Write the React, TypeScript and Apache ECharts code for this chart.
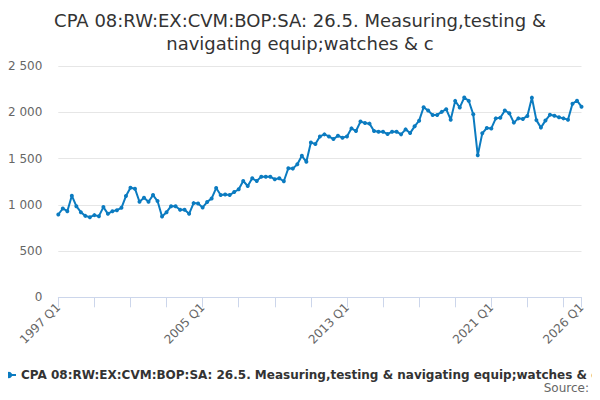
import { useEffect, useRef } from "react";
import * as echarts from "echarts";

const seriesName = "CPA 08:RW:EX:CVM:BOP:SA: 26.5. Measuring,testing & navigating equip;watches & c";
const titleText = "CPA 08:RW:EX:CVM:BOP:SA: 26.5. Measuring,testing &\nnavigating equip;watches & c";

// quarters 1997 Q1 .. 2026 Q1
const quarters: string[] = [];
for (let y = 1997; y <= 2026; y++) {
	for (let q = 1; q <= 4; q++) {
		if (y === 2026 && q > 1) break;
		quarters.push(`${y} Q${q}`);
	}
}

const values = [
	895, 960, 931, 1098, 985, 920, 880, 866, 888, 877,
	975, 902, 931, 942, 967, 1094, 1185, 1174, 1033, 1076,
	1033, 1105, 1040, 873, 920, 985, 985, 946, 946, 902,
	1018, 1014, 971, 1029, 1069, 1181, 1105, 1112, 1105, 1138,
	1167, 1257, 1203, 1286, 1257, 1304, 1304, 1304, 1275, 1286,
	1254, 1395, 1391, 1438, 1529, 1464, 1674, 1656, 1739, 1761,
	1739, 1710, 1746, 1725, 1739, 1826, 1797, 1899, 1884, 1877,
	1797, 1790, 1790, 1764, 1790, 1790, 1761, 1815, 1775, 1848,
	1909, 2054, 2018, 1971, 1971, 2004, 2033, 1920, 2123, 2051,
	2159, 2123, 1978, 1535, 1772, 1830, 1825, 1934, 1941, 2020,
	1989, 1888, 1934, 1928, 1960, 2158, 1915, 1834, 1910, 1972,
	1963, 1945, 1934, 1920, 2092, 2125, 2060,
];

const labelIndexes = [0, 32, 64, 96, 116];
const yTicks = { min: 0, max: 2500, interval: 500 };

const lineColor = "#0b7bc0";
const font = "DejaVu Sans";

const App: React.FC = () => {
	const chartRef = useRef<HTMLDivElement>(null);

	useEffect(() => {
		if (!chartRef.current) return;
		const chart = echarts.init(chartRef.current, undefined, { renderer: "svg" });

		const lastIdx = quarters.length - 1;

		chart.setOption({
			animation: false,
			backgroundColor: "#ffffff",
			textStyle: { fontFamily: font },
			title: {
				text: titleText,
				left: "center",
				top: 4,
				textStyle: {
					fontFamily: font,
					fontSize: 18,
					fontWeight: "normal",
					color: "#333333",
					lineHeight: 23,
				},
			},
			legend: {
				left: -4,
				top: 364,
				itemWidth: 14,
				itemHeight: 8,
				itemGap: 0,
				textStyle: {
					fontFamily: font,
					fontSize: 12,
					fontWeight: "bold",
					color: "#333333",
				},
				data: [seriesName],
			},
			graphic: [
				{
					type: "text",
					right: 11,
					top: 382,
					style: {
						text: "Source:",
						fontFamily: font,
						fontSize: 12,
						fill: "#666666",
					},
				},
			],
			grid: {
				left: 58.3,
				right: 18.5,
				top: 66,
				bottom: 102.7,
			},
			xAxis: {
				type: "category",
				data: quarters,
				boundaryGap: false,
				axisLine: { lineStyle: { color: "#ccd6eb", width: 1 } },
				axisTick: {
					length: 10,
					interval: (i: number) => i % 8 === 0 || i === lastIdx,
					lineStyle: { color: "#ccd6eb" },
				},
				axisLabel: {
					rotate: 45,
					interval: (i: number) => labelIndexes.includes(i),
					color: "#666666",
					fontFamily: font,
					fontSize: 12,
					margin: 8,
				},
				splitLine: { show: false },
			},
			yAxis: {
				type: "value",
				min: yTicks.min,
				max: yTicks.max,
				interval: yTicks.interval,
				axisLine: { show: false },
				axisTick: { show: false },
				axisLabel: {
					color: "#666666",
					fontFamily: font,
					fontSize: 12,
					margin: 16,
					formatter: (v: number) => String(v).replace(/\B(?=(\d{3})+(?!\d))/g, " "),
				},
				splitLine: { lineStyle: { color: "#e6e6e6", width: 1 } },
			},
			series: [
				{
					name: seriesName,
					type: "line",
					data: values,
					symbol: "circle",
					symbolSize: 4,
					showAllSymbol: true,
					lineStyle: { color: lineColor, width: 2 },
					itemStyle: { color: lineColor },
				},
			],
		});

		return () => {
			chart.dispose();
		};
	}, []);

	return <div ref={chartRef} style={{ width: "600px", height: "400px", margin: "-8px" }} />;
};

export default App;
